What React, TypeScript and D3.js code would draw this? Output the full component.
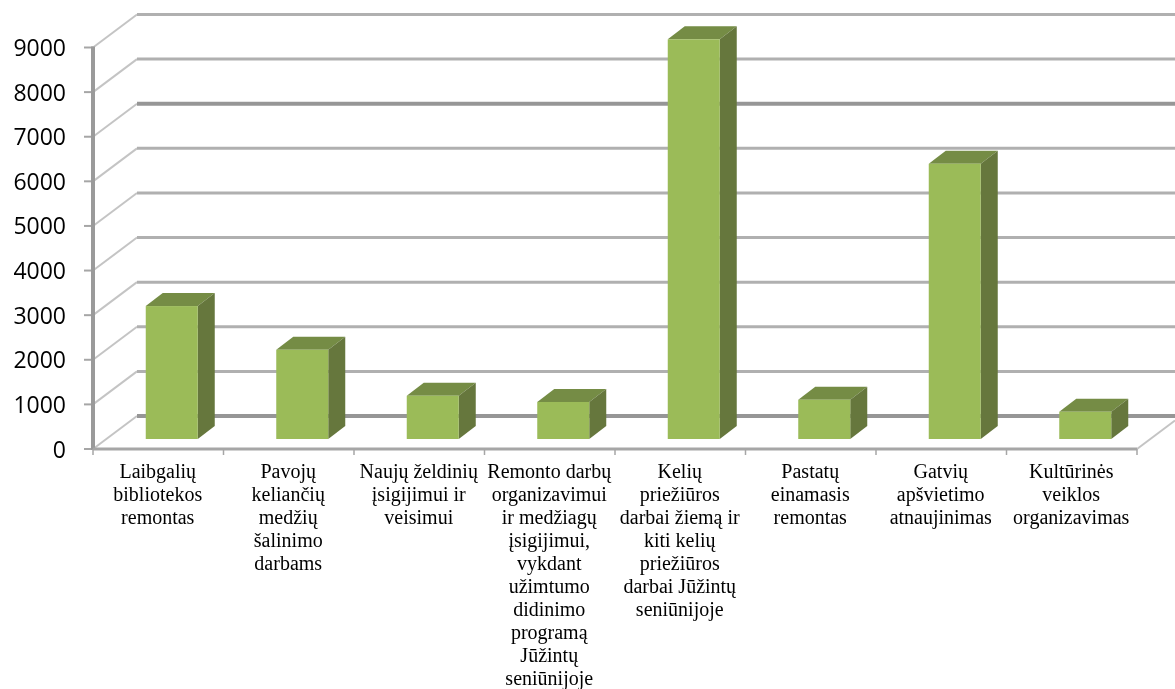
import React from "react";
import * as d3 from "d3";

const categories: string[][] = [
  ["Laibgalių", "bibliotekos", "remontas"],
  ["Pavojų", "keliančių", "medžių", "šalinimo", "darbams"],
  ["Naujų želdinių", "įsigijimui ir", "veisimui"],
  ["Remonto darbų", "organizavimui", "ir medžiagų", "įsigijimui,", "vykdant", "užimtumo", "didinimo", "programą", "Jūžintų", "seniūnijoje"],
  ["Kelių", "priežiūros", "darbai žiemą ir", "kiti kelių", "priežiūros", "darbai Jūžintų", "seniūnijoje"],
  ["Pastatų", "einamasis", "remontas"],
  ["Gatvių", "apšvietimo", "atnaujinimas"],
  ["Kultūrinės", "veiklos", "organizavimas"],
];
const values = [2980, 2000, 970, 830, 8960, 880, 6170, 610];
const ticks = [0, 1000, 2000, 3000, 4000, 5000, 6000, 7000, 8000, 9000];
const heavyTicks = [0, 7000];

const W = 1175, H = 689;
const y = d3.scaleLinear().domain([0, 9000]).range([449, 47.5]);
const x = d3.scaleBand<number>().domain(d3.range(categories.length)).range([93, 1137]);
const DX = 44, DY = -33;
const barW = 52, barDX = 17, barDY = -13, barBase = -10, barShift = 13.5;

export default function App() {
  return (
    <svg width={W} height={H} style={{ position: "absolute", left: 0, top: 0, background: "#fff" }}>
      <defs>
        <filter id="soft" x="-5%" y="-5%" width="110%" height="110%">
          <feGaussianBlur stdDeviation="0.5" />
        </filter>
      </defs>
      <g filter="url(#soft)">
        {ticks.map((t) => {
          const heavy = heavyTicks.includes(t);
          return (
            <g key={t}>
              <line x1={93} y1={y(t)} x2={93 + DX} y2={y(t) + DY} stroke="#c4c4c4" strokeWidth={2} />
              <line x1={93 + DX} y1={y(t) + DY} x2={W} y2={y(t) + DY}
                stroke={heavy ? "#969696" : "#b0b0b0"} strokeWidth={heavy ? 4 : 3} />
              <line x1={84} y1={y(t)} x2={93} y2={y(t)} stroke="#a6a6a6" strokeWidth={2} />
            </g>
          );
        })}
        <line x1={1137} y1={y(0)} x2={W} y2={y(0) - 33 * (38 / 44)} stroke="#c4c4c4" strokeWidth={2} />
        <line x1={93} y1={y(9000) - 1} x2={93} y2={y(0) + 1} stroke="#9a9a9a" strokeWidth={4} />
        <line x1={93} y1={y(0)} x2={1137} y2={y(0)} stroke="#a6a6a6" strokeWidth={3} />
        {d3.range(categories.length + 1).map((i) => {
          const px = i < categories.length ? x(i)! : 1137;
          return <line key={i} x1={px} y1={y(0)} x2={px} y2={y(0) + 6} stroke="#a6a6a6" strokeWidth={1.5} />;
        })}
        {values.map((v, i) => {
          const l = x(i)! + (x.bandwidth() - barW) / 2 + barShift;
          const r = l + barW;
          const b = y(0) + barBase;
          const t = y(v) + barBase;
          return (
            <g key={i}>
              <path d={`M${l},${t}L${l + barDX},${t + barDY}L${r + barDX},${t + barDY}L${r},${t}Z`} fill="#748c45" />
              <path d={`M${r},${t}L${r + barDX},${t + barDY}L${r + barDX},${b + barDY}L${r},${b}Z`} fill="#66773d" />
              <rect x={l} y={t} width={barW} height={b - t} fill="#9bbb59" />
            </g>
          );
        })}
        {ticks.map((t) => (
          <text key={t} x={66} y={y(t) + 8.5} textAnchor="end" fontFamily="Open Sans" fontSize={23} fill="#000">{t}</text>
        ))}
        {categories.map((lines, i) => (
          <text key={i} textAnchor="middle" fontFamily="Liberation Serif" fontSize={20} fill="#000">
            {lines.map((s, j) => (
              <tspan key={j} x={x(i)! + x.bandwidth() / 2 - 0.5} y={478 + j * 23}>{s}</tspan>
            ))}
          </text>
        ))}
      </g>
    </svg>
  );
}
